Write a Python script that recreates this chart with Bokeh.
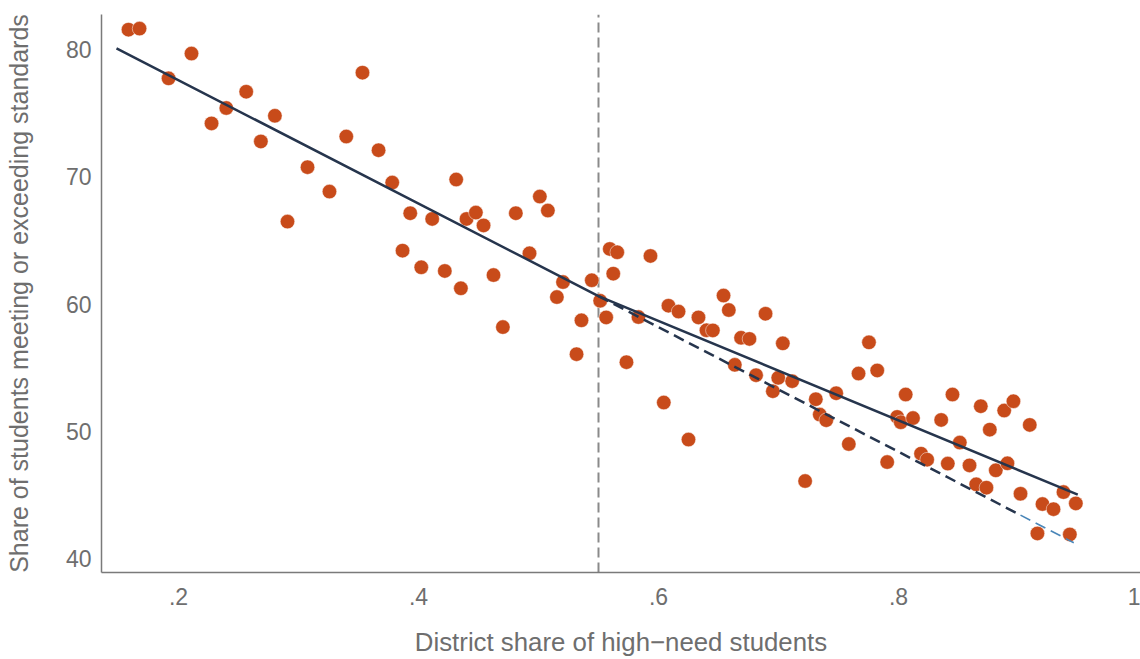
from bokeh.plotting import figure
from bokeh.models import FixedTicker, CustomJSTickFormatter, Range1d
from bokeh.embed import file_html
from bokeh.resources import INLINE

# District share of high-need students (x) and share meeting standards (y)
share_high_need = [
    0.1583, 0.1675, 0.2108, 0.1917, 0.2564, 0.2398, 0.2275, 0.2803, 0.2686, 0.2908,
    0.3075, 0.3258, 0.3398, 0.3533, 0.3667, 0.3781, 0.3867, 0.3931, 0.4023, 0.4114,
    0.4219, 0.4314, 0.4353, 0.4400, 0.4478, 0.4542, 0.4625, 0.4703, 0.4811, 0.4925,
    0.5011, 0.5078, 0.5153, 0.5204, 0.5317, 0.5358, 0.5444, 0.5514, 0.5564, 0.5594,
    0.5656, 0.5623, 0.5733, 0.5833, 0.5933, 0.6044, 0.6083, 0.6167, 0.6250, 0.6333,
    0.6400, 0.6453, 0.6542, 0.6586, 0.6636, 0.6688, 0.6758, 0.6813, 0.6892, 0.6953,
    0.6998, 0.7036, 0.7114, 0.7222, 0.7311, 0.7344, 0.7398, 0.7481, 0.7586, 0.7667,
    0.7754, 0.7823, 0.7906, 0.7989, 0.8019, 0.8060, 0.8121, 0.8188, 0.8239, 0.8356,
    0.8411, 0.8450, 0.8511, 0.8592, 0.8648, 0.8686, 0.8733, 0.8761, 0.8811, 0.8881,
    0.8908, 0.8958, 0.9017, 0.9094, 0.9158, 0.9200, 0.9292, 0.9375, 0.9428, 0.9478,
]
share_meeting = [
    81.57, 81.65, 79.69, 77.74, 76.69, 75.41, 74.20, 74.80, 72.78, 66.48,
    70.76, 68.84, 73.17, 78.19, 72.09, 69.55, 64.20, 67.14, 62.89, 66.69,
    62.60, 69.79, 61.24, 66.69, 67.19, 66.18, 62.28, 58.19, 67.14, 63.99,
    68.45, 67.35, 60.55, 61.73, 56.06, 58.72, 61.87, 60.26, 58.95, 64.33,
    64.07, 62.39, 55.43, 58.98, 63.78, 52.26, 59.87, 59.41, 49.35, 58.95,
    57.94, 57.93, 60.67, 59.53, 55.22, 57.35, 57.26, 54.41, 59.24, 53.15,
    54.20, 56.91, 53.94, 46.09, 52.52, 51.31, 50.87, 52.99, 49.00, 54.54,
    56.99, 54.78, 47.58, 51.13, 50.71, 52.89, 51.04, 48.24, 47.77, 50.89,
    47.46, 52.89, 49.11, 47.32, 45.83, 51.97, 45.57, 50.13, 46.93, 51.63,
    47.48, 52.36, 45.09, 50.50, 41.97, 44.28, 43.88, 45.22, 41.89, 44.33,
]

# Fitted lines (piecewise fit with kink at the cutoff, and the counterfactual)
cutoff = 0.55
fit_x = [0.1483, 0.55, 0.9494]
fit_y = [80.10, 60.63, 45.02]
counter_x = [0.55, 0.9017]
counter_y = [60.63, 43.41]
counter_tail_x = [0.9017, 0.9461]
counter_tail_y = [43.41, 41.24]

x_ticks = [0.2, 0.4, 0.6, 0.8, 1.0]
y_ticks = [40, 50, 60, 70, 80]

FONT = "Liberation Sans"
GREY_TXT = "#6e6e6e"

p = figure(width=1140, height=659, output_backend="svg", toolbar_location=None,
           x_range=Range1d(0.1358, 1.0017), y_range=Range1d(38.9, 82.76))
p.min_border_left = 101
p.min_border_right = 0
p.min_border_top = 14
p.min_border_bottom = 87
p.outline_line_color = None
p.grid.visible = False
p.background_fill_color = "white"
p.border_fill_color = "white"

# vertical cutoff line
p.line([cutoff, cutoff], [38.9, 82.76], line_color="#8a8a8a", line_width=2,
       line_dash="10 5")

p.scatter(share_high_need, share_meeting, size=14.5, fill_color="#c84b1a",
          line_color="white", line_width=0.8, line_alpha=0.6)

p.line(counter_tail_x, counter_tail_y, line_color="#4a86b8", line_width=1.6,
       line_dash="11 6")
p.line(counter_x, counter_y, line_color="#26354d", line_width=2.5,
       line_dash="11 6")
p.line(fit_x, fit_y, line_color="#26354d", line_width=2.5)

for ax in (p.xaxis[0], p.yaxis[0]):
    ax.axis_line_color = "#7a7a7a"
    ax.axis_line_width = 1.5
    ax.major_tick_line_color = None
    ax.minor_tick_line_color = None
    ax.major_tick_in = 0
    ax.major_tick_out = 0
    ax.major_label_text_font = FONT
    ax.major_label_text_font_size = "23px"
    ax.major_label_text_color = GREY_TXT
    ax.axis_label_text_font = FONT
    ax.axis_label_text_font_style = "normal"
    ax.axis_label_text_color = GREY_TXT

p.xaxis.ticker = FixedTicker(ticks=x_ticks)
p.xaxis.formatter = CustomJSTickFormatter(
    code="return tick >= 0.999 ? '1' : tick.toFixed(1).replace(/^0/, '');")
p.xaxis.axis_label = "District share of high\u2212need students"
p.xaxis.axis_label_text_font_size = "25.8px"
p.xaxis.major_label_standoff = 15
p.xaxis.axis_label_standoff = 20

p.yaxis.ticker = FixedTicker(ticks=y_ticks)
p.yaxis.axis_label = "Share of students meeting or exceeding standards"
p.yaxis.axis_label_text_font_size = "25px"
p.yaxis.major_label_standoff = 10
p.yaxis.axis_label_standoff = 30

open("out.html", "w").write(file_html(p, INLINE))
